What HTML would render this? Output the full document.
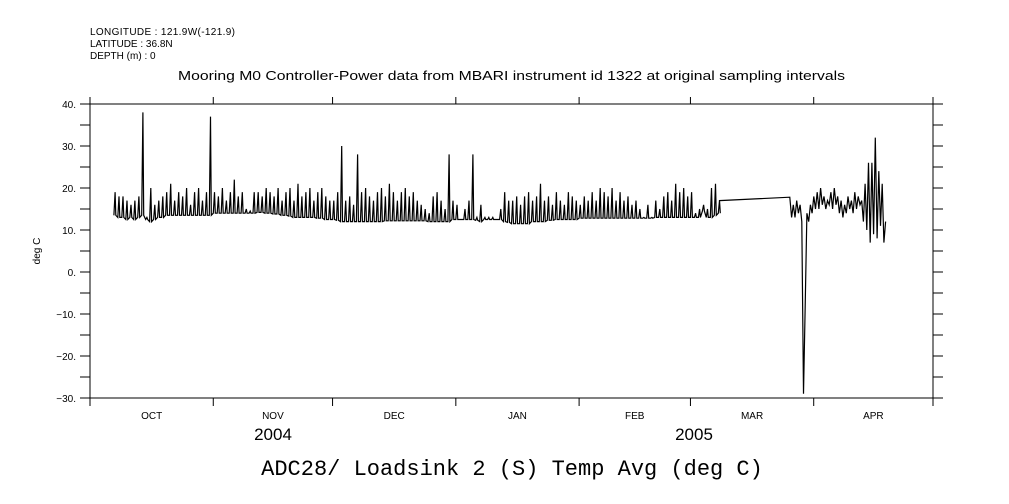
<!DOCTYPE html>
<html><head><meta charset="utf-8"><style>
body{margin:0;background:#fff}
svg{display:block}
text{font-family:"Liberation Sans",sans-serif;font-size:10px;fill:#000}
</style></head><body>
<svg id="c" width="1009" height="504">
<text x="90" y="35" textLength="145" lengthAdjust="spacing">LONGITUDE : 121.9W(-121.9)</text>
<text x="90" y="47" font-size="10.5">LATITUDE : 36.8N</text>
<text x="90" y="59" font-size="10.5">DEPTH (m) : 0</text>
<text x="178" y="80" textLength="667" lengthAdjust="spacingAndGlyphs" style="font-size:13px">Mooring M0 Controller-Power data from MBARI instrument id 1322 at original sampling intervals</text>
<text x="40" y="251" transform="rotate(-90 40 251)" text-anchor="middle" font-size="11">deg C</text>
<text x="273" y="440" text-anchor="middle" style="font-size:17px">2004</text>
<text x="694" y="440" text-anchor="middle" style="font-size:17px">2005</text>
<text x="512" y="475" text-anchor="middle" style="font-family:'Liberation Mono',monospace;font-size:22px">ADC28/ Loadsink 2 (S) Temp Avg (deg C)</text>
<g id="axes"></g>
<path id="series" fill="none" stroke="#000" stroke-width="1.2"></path>
</svg>
<script>
const yTicks=[40,30,20,10,0,-10,-20,-30];
const monthLabels=["OCT","NOV","DEC","JAN","FEB","MAR","APR"];
const monthStarts=[0,31,61,92,123,151,182,212];
const seg1Start=6;
const base=[13.5,13,13,12.5,13,12.5,13,13.5,12.5,12,12.5,13,13,13.5,13.5,13.5,13.5,13.5,13.5,13.5,13.5,13.5,13.5,13.5,13.5,
14,14,14,14,14,14,14,14,14,14,14,14.2,14.2,14,14,13.8,13.8,13.5,13.5,13.3,13,13,13,13,13,13,12.8,12.8,12.5,12.5,
12.5,12.3,12,12,12,12,12,12,12,12,12,12,12,12.2,12.2,12.2,12.2,12.2,12.2,12.2,12.2,12.2,12.2,12.2,12,12,12,12,12,12,12.5,
12.5,12.5,12.5,12.5,12.5,12.3,12,12.5,12.5,12.5,12.5,12.5,12,11.8,11.5,11.5,11.5,11.5,11.5,12,12,12,12,12.3,12.3,12.5,12.5,12.5,12.5,12.5,12.5,
12.8,12.8,12.8,12.8,12.8,12.8,12.8,12.8,12.8,12.8,12.8,12.8,12.8,12.8,12.8,12.8,12.8,12.8,12.8,13,13,13,13,13,13,13,13,13,
13,13,13,14.5,13,13,13.5,14];
const peak=[19,18,18,17,16,17,18,38,13,20,16,17,18,19,21,17,19,18,20,16,19,20,17,19,37,
19,18,20,17,19,22,18,19,15,14.5,19,19,18,20,19,18,20,17,19,20,17,21,18,19,20,17,19,20,18,17,
17,19,30,17,18,16,28,19,20,18,17,19,20,18,21,19,17,19,20,18,19,17,16,15,14,18,19,17,15,28,17,
16,null,15,17,28,13,16,13,13,13,12.5,15,19,17,17,18,16,18,19,17,18,21,17,18,16,19,17,16,19,18,17,
16,18,17,19,17,20,19,18,20,17,19,17,18,16,17,15,13,16,13,17,15,18,19,17,21,19,20,18,
19,14,15,16,15,20,21,17];
const gapDays=[158.3,176];
const gapVals=[17,17.8];
const seg3Start=176;
const seg3Step=0.43;
const seg3=[17.8,13,16,13,17,14,16,12,-29,-8,14,12,16,14,18,15,19,15,20,16,18,15,17,16,19,15,20,16,18,14,17,13,16,14,18,15,17,14,19,15,18,16,17,12,21,10,26,7,26,9,32,8,24,11,21,7,12];

const L=90,R=933,T=104,B=398;
const x=d=>L+d/212*(R-L);
const y=v=>T+(40-v)/70*(B-T);
const svg=document.getElementById('c'),ax=document.getElementById('axes'),NS="http://www.w3.org/2000/svg";
function mk(tag,attrs){const e=document.createElementNS(NS,tag);for(const k in attrs)e.setAttribute(k,attrs[k]);ax.appendChild(e);return e;}
const frame=mk('rect',{x:L,y:T,width:R-L,height:B-T,fill:'none',stroke:'#000','stroke-width':1});


for(let v=-30;v<=40;v+=5){
  const t1=mk('line',{x1:L-10,x2:L,y1:y(v),y2:y(v),stroke:'#000'});
  
  
  const t2=mk('line',{x1:R,x2:R+10,y1:y(v),y2:y(v),stroke:'#000'});
  
  
}
yTicks.forEach(v=>{const t=mk('text',{x:L-14,y:y(v)+4,'text-anchor':'end'});t.textContent=(v<0?'\u2212'+(-v):v)+'.';
  
  });
monthStarts.forEach(d=>{
  const a=mk('line',{x1:x(d),x2:x(d),y1:B,y2:B+8,stroke:'#000'});
  
  
  const b=mk('line',{x1:x(d),x2:x(d),y1:T-7,y2:T,stroke:'#000'});
  
  
});
monthLabels.forEach((m,i)=>{const t=mk('text',{x:x((monthStarts[i]+monthStarts[i+1])/2),y:419,'text-anchor':'middle'});t.textContent=m;
  
  });
let p='';
base.forEach((b,i)=>{const d=seg1Start+i;
  p+=(i?'L':'M')+x(d).toFixed(1)+' '+y(b).toFixed(1);
  if(peak[i]!=null){p+='L'+x(d+0.3).toFixed(1)+' '+y(peak[i]).toFixed(1)+'L'+x(d+0.5).toFixed(1)+' '+y(b).toFixed(1);}
});
gapDays.forEach((d,i)=>{p+='L'+x(d).toFixed(1)+' '+y(gapVals[i]).toFixed(1);});
seg3.forEach((v,i)=>{p+='L'+x(seg3Start+i*seg3Step).toFixed(1)+' '+y(v).toFixed(1);});
document.getElementById('series').setAttribute('d',p);
</script>
</body></html>
